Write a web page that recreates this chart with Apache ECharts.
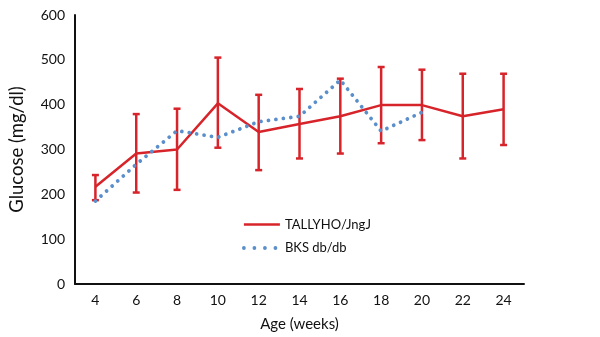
<!DOCTYPE html>
<html>
<head>
<meta charset="utf-8">
<script src="https://cdn.jsdelivr.net/npm/echarts@6/dist/echarts.min.js"></script>
<style>
  html, body { margin: 0; padding: 0; background: #fff; }
  #chart { width: 600px; height: 337px; }
</style>
</head>
<body>
<div id="chart"></div>
<script>
// Age in weeks
const ages = ['4', '6', '8', '10', '12', '14', '16', '18', '20', '22', '24'];
// TALLYHO/JngJ mean glucose and error bar ends (mg/dl)
const tallyhoMean = [217, 291, 300, 403, 339, 357, 374, 399, 399, 374, 390];
const tallyhoHigh = [243, 379, 391, 505, 422, 435, 458, 484, 478, 469, 469];
const tallyhoLow  = [187, 204, 210, 304, 254, 280, 291, 314, 321, 280, 310];
// BKS db/db mean glucose (mg/dl), measured up to 20 weeks
const bksMean = [185, 267, 342, 327, 362, 374, 455, 341, 383, null, null];
const yTicks = [0, 100, 200, 300, 400, 500, 600];

const RED = '#D7242A';
const BLUE = '#5B8FCC';
const FONT = 'Lato';

const errData = ages.map((a, i) => [i, tallyhoLow[i], tallyhoHigh[i]]);

const chart = echarts.init(document.getElementById('chart'), null, { renderer: 'canvas' });
chart.setOption({
  animation: false,
  textStyle: { fontFamily: FONT },
  grid: { left: 73, right: 76, top: 15, bottom: 53, containLabel: false },
  legend: {
    orient: 'vertical',
    left: 242,
    top: 218,
    padding: 0,
    itemWidth: 36,
    itemHeight: 12,
    itemGap: 10.5,
    textStyle: { fontFamily: FONT, fontSize: 13, color: '#111' },
    data: [
      { name: 'TALLYHO/JngJ', icon: 'path://M0,0L36,0L36,2.5L0,2.5Z' },
      {
        name: 'BKS db/db',
        itemStyle: { opacity: 0 },
        lineStyle: { type: [0.01, 10.5], width: 3.8, cap: 'round', color: BLUE }
      }
    ]
  },
  xAxis: {
    type: 'category',
    data: ages,
    boundaryGap: true,
    name: 'Age (weeks)',
    nameLocation: 'middle',
    nameGap: 33,
    nameTextStyle: { fontFamily: FONT, fontSize: 15, color: '#111' },
    axisLine: { lineStyle: { color: '#111', width: 2 } },
    axisTick: { show: false },
    axisLabel: { fontFamily: FONT, fontSize: 14, color: '#111', margin: 9 }
  },
  yAxis: {
    type: 'value',
    min: 0,
    max: 600,
    interval: 100,
    name: 'Glucose (mg/dl)',
    nameLocation: 'middle',
    nameGap: 48,
    nameTextStyle: { fontFamily: FONT, fontSize: 18.5, color: '#111' },
    axisLine: { show: true, lineStyle: { color: '#111', width: 2 } },
    axisTick: { show: false },
    splitLine: { show: false },
    axisLabel: {
      fontFamily: FONT, fontSize: 14, color: '#111', margin: 10,
      formatter: v => yTicks.includes(v) ? String(v) : ''
    }
  },
  series: [
    {
      name: 'TALLYHO/JngJ',
      type: 'line',
      data: tallyhoMean,
      symbol: 'none',
      z: 3,
      lineStyle: { color: RED, width: 2.5 },
      itemStyle: { color: RED }
    },
    {
      name: 'TALLYHO/JngJ',
      type: 'custom',
      data: errData,
      z: 3,
      renderItem: function (params, api) {
        const i = api.value(0);
        const lo = api.coord([i, api.value(1)]);
        const hi = api.coord([i, api.value(2)]);
        const half = 3.5;
        const style = { stroke: RED, lineWidth: 2.5, fill: null };
        return {
          type: 'group',
          children: [
            { type: 'line', shape: { x1: lo[0], y1: lo[1], x2: hi[0], y2: hi[1] }, style: style },
            { type: 'line', shape: { x1: hi[0] - half, y1: hi[1], x2: hi[0] + half, y2: hi[1] }, style: style },
            { type: 'line', shape: { x1: lo[0] - half, y1: lo[1], x2: lo[0] + half, y2: lo[1] }, style: style }
          ]
        };
      },
      encode: { x: 0, y: [1, 2] }
    },
    {
      name: 'BKS db/db',
      type: 'line',
      data: bksMean,
      symbol: 'none',
      z: 4,
      lineStyle: { color: BLUE, width: 3.8, type: [0.01, 7.5], cap: 'round' },
      itemStyle: { color: BLUE }
    }
  ]
});
</script>
</body>
</html>
